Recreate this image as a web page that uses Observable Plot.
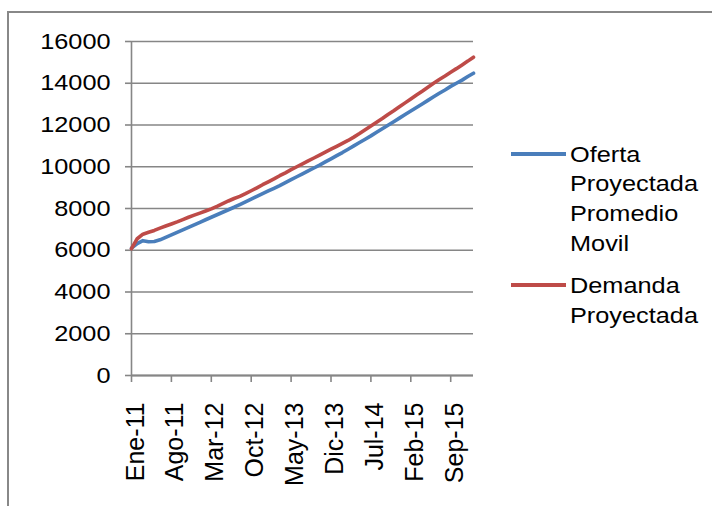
<!DOCTYPE html>
<html>
<head>
<meta charset="utf-8">
<script src="https://cdn.jsdelivr.net/npm/d3@7"></script>
<script src="https://cdn.jsdelivr.net/npm/@observablehq/plot@0.6"></script>
<style>
  html, body { margin: 0; padding: 0; background: #fff; width: 712px; height: 506px; overflow: hidden; }
  #frame { position: absolute; left: 6.5px; top: 11px; width: 760px; height: 560px; border: 2.5px solid #888; box-sizing: border-box; }
  #chart { position: absolute; left: 0; top: 0; }
  .legend { position: absolute; left: 511px; font-family: "Liberation Sans", Arial, sans-serif; font-size: 22px; line-height: 29.7px; color: #000; }
  .legend .swatch { position: absolute; left: 0; width: 55px; height: 4px; }
  .legend .label { position: absolute; left: 59px; white-space: nowrap; transform: scaleX(1.15); transform-origin: left top; }
</style>
</head>
<body>
<div id="frame"></div>
<div id="chart"></div>
<div class="legend" id="legend"></div>
<script>
// Monthly periods, Ene-11 through Ene-16
const meses = ["Ene", "Feb", "Mar", "Abr", "May", "Jun", "Jul", "Ago", "Sep", "Oct", "Nov", "Dic"];
const periodos = d3.range(61).map(i => `${meses[i % 12]}-${11 + Math.floor(i / 12)}`);

// Axis labels shown every seven months
const etiquetasX = ["Ene-11", "Ago-11", "Mar-12", "Oct-12", "May-13", "Dic-13", "Jul-14", "Feb-15", "Sep-15"];
const ticksY = [0, 2000, 4000, 6000, 8000, 10000, 12000, 14000, 16000];

// Projected supply (moving average)
const oferta = [
  6100, 6320, 6460, 6410, 6420, 6500, 6620, 6740, 6860, 6980,
  7100, 7220, 7340, 7460, 7580, 7700, 7820, 7940, 8060, 8190,
  8320, 8450, 8580, 8710, 8840, 8970, 9100, 9240, 9380, 9520,
  9660, 9800, 9940, 10080, 10230, 10380, 10530, 10680, 10840, 11000,
  11160, 11320, 11480, 11650, 11820, 11990, 12160, 12330, 12500, 12670,
  12840, 13010, 13180, 13350, 13520, 13680, 13850, 14000, 14150, 14320,
  14480
];

// Projected demand
const demanda = [
  6080, 6550, 6770, 6860, 6950, 7060, 7160, 7260, 7360, 7470,
  7580, 7680, 7780, 7880, 7980, 8100, 8230, 8360, 8480, 8580,
  8710, 8850, 8990, 9140, 9280, 9420, 9570, 9710, 9860, 10000,
  10140, 10280, 10420, 10560, 10700, 10840, 10980, 11120, 11260, 11420,
  11590, 11770, 11950, 12130, 12310, 12500, 12680, 12870, 13060, 13250,
  13440, 13620, 13810, 14000, 14180, 14350, 14530, 14700, 14880, 15060,
  15250
];

const series = [
  {nombre: ["Oferta", "Proyectada", "Promedio", "Movil"], color: "#4a7ebb", valores: oferta},
  {nombre: ["Demanda", "Proyectada"], color: "#be4b48", valores: demanda}
];

const grisEje = "#868686";
const fuente = "'Liberation Sans', Arial, sans-serif";

const chart = Plot.plot({
  width: 712,
  height: 506,
  marginLeft: 131,
  marginRight: 239,
  marginTop: 41,
  marginBottom: 131,
  style: {fontFamily: fuente, fontSize: "22px", color: "#000", background: "transparent"},
  x: {type: "point", domain: periodos, padding: 0},
  y: {domain: [0, 16000]},
  marks: [
    Plot.gridY(ticksY, {stroke: grisEje, strokeOpacity: 1, strokeWidth: 1.6}),
    Plot.axisY(ticksY, {tickSize: 6, tickPadding: 15, tickFormat: d => String(d), stroke: grisEje, strokeWidth: 1.6, label: null}),
    Plot.axisX(etiquetasX, {tickSize: 7, tickPadding: 20, tickRotate: -90, fontSize: 25, stroke: grisEje, strokeWidth: 1.6, label: null}),
    Plot.ruleX([periodos[0]], {stroke: grisEje, strokeWidth: 1.6}),
    Plot.ruleY([0], {stroke: grisEje, strokeWidth: 2}),
    ...series.map(s => Plot.lineY(s.valores, {x: periodos, y: s.valores, stroke: s.color, strokeWidth: 3.6}))
  ]
});
document.getElementById("chart").append(chart);

// Widen the value labels slightly, keeping their right edge fixed
d3.select(chart).selectAll('g[aria-label="y-axis tick label"] text').each(function() {
  const b = this.getBBox();
  const xr = b.x + b.width;
  const t = this.getAttribute("transform") || "";
  this.setAttribute("transform", `${t} translate(${xr},0) scale(1.15,1) translate(${-xr},0)`);
});

// Nudge the rotated period labels to sit just right of their ticks
d3.select(chart).selectAll('g[aria-label="x-axis tick label"]').each(function() {
  const t = this.getAttribute("transform") || "";
  this.setAttribute("transform", `${t} translate(4,0)`);
});

// Legend at the right of the plot
const legend = document.getElementById("legend");
const posiciones = [{swatch: 152, top: 139.5}, {swatch: 282.5, top: 271}];
series.forEach((s, i) => {
  const sw = document.createElement("div");
  sw.className = "swatch";
  sw.style.top = posiciones[i].swatch + "px";
  sw.style.background = s.color;
  legend.append(sw);
  const lb = document.createElement("div");
  lb.className = "label";
  lb.style.top = posiciones[i].top + "px";
  lb.innerHTML = s.nombre.join("<br>");
  legend.append(lb);
});
</script>
</body>
</html>
